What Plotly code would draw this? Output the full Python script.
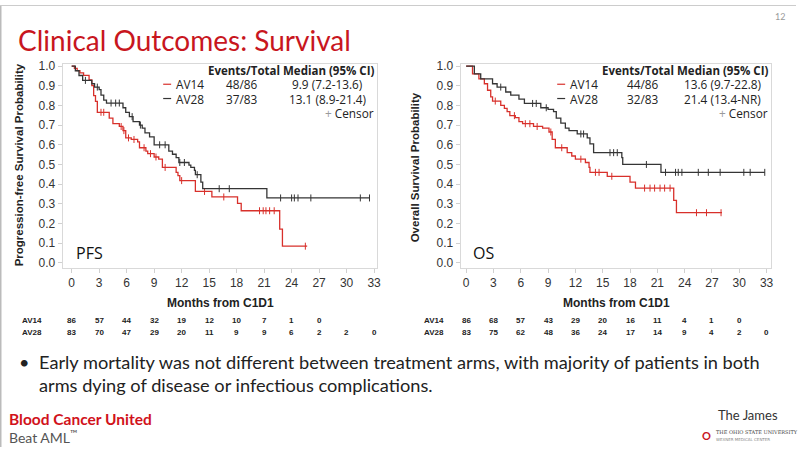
import plotly.graph_objects as go

W, H = 800, 449

# ---------------- DATA ----------------
x_ticks = list(range(0, 34, 3))
y_ticks = [0.0, 0.1, 0.2, 0.3, 0.4, 0.5, 0.6, 0.7, 0.8, 0.9, 1.0]

# PFS - AV14 (red)
pfs14_t = [0, 0.3, 0.6, 0.9, 1.3, 1.9, 2.2, 2.4, 2.6, 2.8, 4.1, 4.5, 5.2, 5.6, 5.9, 6.5, 7.2, 7.4, 8.1, 8.3, 9.0, 9.5, 9.9,
           11.4, 11.6, 11.8, 13.5, 15.3, 18.1, 18.5, 22.7, 23.0, 25.7]
pfs14_s = [1.0, 0.988, 0.977, 0.965, 0.953, 0.93, 0.90, 0.85, 0.82, 0.765, 0.735, 0.707, 0.693, 0.672, 0.635, 0.627, 0.615,
           0.585, 0.568, 0.555, 0.538, 0.527, 0.485, 0.46, 0.443, 0.418, 0.363, 0.335, 0.302, 0.265, 0.172, 0.085, 0.085]
pfs14_c = [3.2, 3.5, 5.4, 5.7, 6.2, 6.8, 7.9, 8.6, 9.2, 10.2, 12.0, 14.5, 16.6, 20.5, 20.9, 21.2, 21.6, 22.1, 25.5]

# PFS - AV28 (black)
pfs28_t = [0, 0.4, 0.8, 1.2, 2.2, 2.5, 3.0, 3.2, 3.5, 3.8, 5.6, 5.9, 6.3, 6.7, 7.4, 7.7, 8.0, 8.5, 9.0, 10.6, 11.0, 11.4,
           11.7, 12.8, 13.0, 13.4, 13.5, 14.1, 14.3, 21.3, 32.5]
pfs28_s = [1.0, 0.976, 0.952, 0.927, 0.91, 0.893, 0.88, 0.852, 0.827, 0.812, 0.788, 0.765, 0.743, 0.718, 0.70, 0.685,
           0.66, 0.64, 0.60, 0.568, 0.552, 0.535, 0.51, 0.497, 0.485, 0.47, 0.448, 0.41, 0.377, 0.33, 0.33]
pfs28_c = [1.5, 2.8, 4.3, 4.8, 5.2, 6.6, 7.5, 9.6, 10.2, 11.8, 12.3, 13.7, 16.1, 17.2, 22.8, 24.0, 24.3, 24.7, 26.1,
           31.5, 32.5]

# OS - AV14 (red)
os14_t = [0, 0.7, 1.4, 2.0, 2.35, 2.7, 2.9, 3.8, 4.2, 4.5, 4.8, 5.4, 5.8, 6.2, 7.4, 8.4, 9.1, 9.45, 9.8, 11.1, 11.6, 12.0,
          13.1, 13.5, 13.6, 15.5, 18.0, 18.6, 22.8, 23.1, 28.1]
os14_s = [1.0, 0.96, 0.935, 0.91, 0.877, 0.843, 0.822, 0.80, 0.785, 0.768, 0.748, 0.738, 0.718, 0.707, 0.693, 0.685,
          0.665, 0.627, 0.585, 0.56, 0.543, 0.527, 0.51, 0.485, 0.46, 0.44, 0.41, 0.38, 0.318, 0.255, 0.255]
os14_c = [3.2, 5.3, 6.5, 7.0, 7.8, 9.3, 10.5, 12.6, 14.2, 14.6, 16.0, 19.6, 20.2, 20.7, 21.3, 21.8, 22.4, 25.3, 26.4, 28.0]

# OS - AV28 (black)
os28_t = [0, 0.9, 1.6, 2.9, 3.4, 4.35, 4.9, 5.8, 6.4, 8.2, 9.0, 9.6, 9.9, 10.4, 10.9, 11.3, 12.2, 13.3, 13.6, 14.0,
          17.1, 17.2, 21.4, 32.8]
os28_s = [1.0, 0.96, 0.935, 0.91, 0.893, 0.868, 0.852, 0.832, 0.81, 0.788, 0.78, 0.768, 0.735, 0.71, 0.685, 0.672,
          0.655, 0.635, 0.605, 0.56, 0.535, 0.50, 0.46, 0.46]
os28_c = [3.8, 7.3, 7.7, 8.8, 12.6, 12.9, 15.8, 16.2, 16.6, 19.8, 21.9, 23.0, 23.3, 23.7, 25.5, 26.6, 27.9, 30.5, 31.2,
          32.8]

# Numbers at risk
pfs_risk_av14 = [86, 57, 44, 32, 19, 12, 10, 7, 1, 0]
pfs_risk_av28 = [83, 70, 47, 29, 20, 11, 9, 9, 6, 2, 2, 0]
os_risk_av14 = [86, 68, 57, 43, 29, 20, 16, 11, 4, 1, 0]
os_risk_av28 = [83, 75, 62, 48, 36, 24, 17, 14, 9, 4, 2, 0]

arm_names = ["AV14", "AV28"]
pfs_events = ["48/86", "37/83"]
pfs_medians = ["9.9 (7.2-13.6)", "13.1 (8.9-21.4)"]
os_events = ["44/86", "32/83"]
os_medians = ["13.6 (9.7-22.8)", "21.4 (13.4-NR)"]

RED = "#d8302b"
BLK = "#353535"


def px(x):
    return x / W


def py(y):
    return 1 - y / H


def step_value(t_list, s_list, t):
    v = s_list[0]
    for tt, ss in zip(t_list, s_list):
        if tt <= t:
            v = ss
    return v


fig = go.Figure()

curves = [
    ("x", "y", pfs14_t, pfs14_s, pfs14_c, RED),
    ("x", "y", pfs28_t, pfs28_s, pfs28_c, BLK),
    ("x2", "y2", os14_t, os14_s, os14_c, RED),
    ("x2", "y2", os28_t, os28_s, os28_c, BLK),
]
for xa, ya, t, s, c, col in curves:
    fig.add_trace(go.Scatter(x=t, y=s, mode="lines", line=dict(color=col, width=1.3, shape="hv"),
                             xaxis=xa, yaxis=ya, showlegend=False, hoverinfo="skip"))
    fig.add_trace(go.Scatter(x=c, y=[step_value(t, s, v) for v in c], mode="markers",
                             marker=dict(symbol="line-ns-open", size=5, color=col, line=dict(color=col, width=1)),
                             xaxis=xa, yaxis=ya, showlegend=False, hoverinfo="skip"))

axis_common = dict(showgrid=False, zeroline=False, showline=True, mirror=True, linecolor="#d9d9d9", linewidth=1,
                   ticks="outside", ticklen=4, tickcolor="#d0d0d0",
                   tickfont=dict(family="Liberation Sans, Arial", size=12, color="#333333"))

fig.update_layout(
    width=W, height=H, margin=dict(l=0, r=0, t=0, b=0),
    paper_bgcolor="white", plot_bgcolor="white",
    xaxis=dict(domain=[px(63), px(379)], range=[-0.98, 33.33], tickvals=x_ticks, anchor="y", **axis_common),
    yaxis=dict(domain=[py(267), py(60)], range=[-0.025, 1.01], tickvals=y_ticks, tickformat=".1f", anchor="x",
               **axis_common),
    xaxis2=dict(domain=[px(463), px(775)], range=[-0.6, 33.5], tickvals=x_ticks, anchor="y2", **axis_common),
    yaxis2=dict(domain=[py(267), py(60)], range=[-0.025, 1.01], tickvals=y_ticks, tickformat=".1f", anchor="x2",
                **axis_common),
)

ann = []
shapes = []


def txt(x, y, text, size, color="#222", family="Lato", xanchor="left", yanchor="middle", angle=0, **kw):
    ann.append(dict(x=px(x), y=py(y), xref="paper", yref="paper", text=text, showarrow=False,
                    font=dict(family=family, size=size, color=color), xanchor=xanchor, yanchor=yanchor,
                    textangle=angle, borderpad=0, **kw))


# Title
txt(17, 36, "Clinical Outcomes: Survival", 28, color="#c8161e", family="Lato")
# page number
txt(784, 12, "12", 9, color="#9a9a9a", family="Lato", xanchor="center")

# axis titles
ARIAL = "Liberation Sans, Arial"
txt(20, 162, "<b>Progression-free Survival Probability</b>", 11.5, color="#222", family=ARIAL, xanchor="center",
    angle=-90)
txt(418, 165, "<b>Overall Survival Probability</b>", 11.5, color="#222", family=ARIAL, xanchor="center", angle=-90)
txt(222, 303, "<b>Months from C1D1</b>", 12, color="#222", family=ARIAL, xanchor="center")
txt(620, 303, "<b>Months from C1D1</b>", 12, color="#222", family=ARIAL, xanchor="center")

# panel labels
txt(75, 252, "PFS", 16, color="#111", family="Open Sans")
txt(474, 252, "OS", 16, color="#111", family="Open Sans")

# legends inside plots
LEG = "Open Sans"
for (events, medians, cols) in [(pfs_events, pfs_medians, (164, 176, 243, 329, 377)),
                                (os_events, os_medians, (560, 572, 646, 726, 773))]:
    dash_x, name_x, ev_x, med_x, right_x = cols
    txt(right_x, 67, "<b>Events/Total Median (95% CI)</b>", 11.5, color="#222", family=LEG, xanchor="right")
    for i in range(2):
        yy = 80.5 + i * 14.5
        shapes.append(dict(type="line", xref="paper", yref="paper", x0=px(dash_x), x1=px(dash_x + 8),
                           y0=py(yy), y1=py(yy), line=dict(color=RED if i == 0 else BLK, width=1.2)))
        txt(name_x, yy, arm_names[i], 11.8, color="#222", family=LEG)
        txt(ev_x, yy, events[i], 11.8, color="#222", family=LEG, xanchor="center")
        txt(med_x, yy, medians[i], 11.8, color="#222", family=LEG, xanchor="center")
    txt(right_x, 109.5, "<span style='color:#9a9a9a'>+</span> Censor", 11.8, color="#222", family=LEG,
        xanchor="right")

# numbers at risk
for xref, a14, a28, lx in [("x", pfs_risk_av14, pfs_risk_av28, 32), ("x2", os_risk_av14, os_risk_av28, 436)]:
    txt(lx, 321, "<b>AV14</b>", 8, color="#222", family=ARIAL, xanchor="center")
    txt(lx, 333, "<b>AV28</b>", 8, color="#222", family=ARIAL, xanchor="center")
    for row, vals in [(321, a14), (333, a28)]:
        for i, v in enumerate(vals):
            ann.append(dict(x=x_ticks[i], y=py(row), xref=xref, yref="paper", text="<b>%d</b>" % v,
                            showarrow=False, font=dict(family=ARIAL, size=8, color="#222"),
                            xanchor="center", yanchor="middle", borderpad=0))

# bullet text
txt(18, 363, "•", 18, color="#222", family="Lato")
txt(38, 363, "Early mortality was not different between treatment arms, with majority of patients in both", 18.2,
    color="#222", family="Lato")
txt(38, 386, "arms dying of disease or infectious complications.", 18.2, color="#222", family="Lato")

# footer
txt(8, 421, "<b>Blood Cancer United</b>", 15.5, color="#d1121b", family="Lato")
txt(8, 438, "Beat AML<sup>™</sup>", 14, color="#555", family="Lato")
txt(783, 416, "The James", 13, color="#333", family="Lato", xanchor="right")
txt(710, 437, "<b>O</b>", 11, color="#c8161e", family="Lato", xanchor="center")
txt(719, 434, "THE OHIO STATE UNIVERSITY", 5, color="#444", family="DejaVu Serif")
txt(719, 441, "WEXNER MEDICAL CENTER", 4, color="#888", family="DejaVu Sans")

# slide border
shapes += [
    dict(type="line", xref="paper", yref="paper", x0=px(0.5), x1=px(0.5), y0=0, y1=1,
         line=dict(color="#bbbbbb", width=2)),
    dict(type="line", xref="paper", yref="paper", x0=0, x1=1, y0=py(0.5), y1=py(0.5),
         line=dict(color="#cccccc", width=1)),
]

fig.update_layout(annotations=ann, shapes=shapes)

fig.write_html("out.html")
